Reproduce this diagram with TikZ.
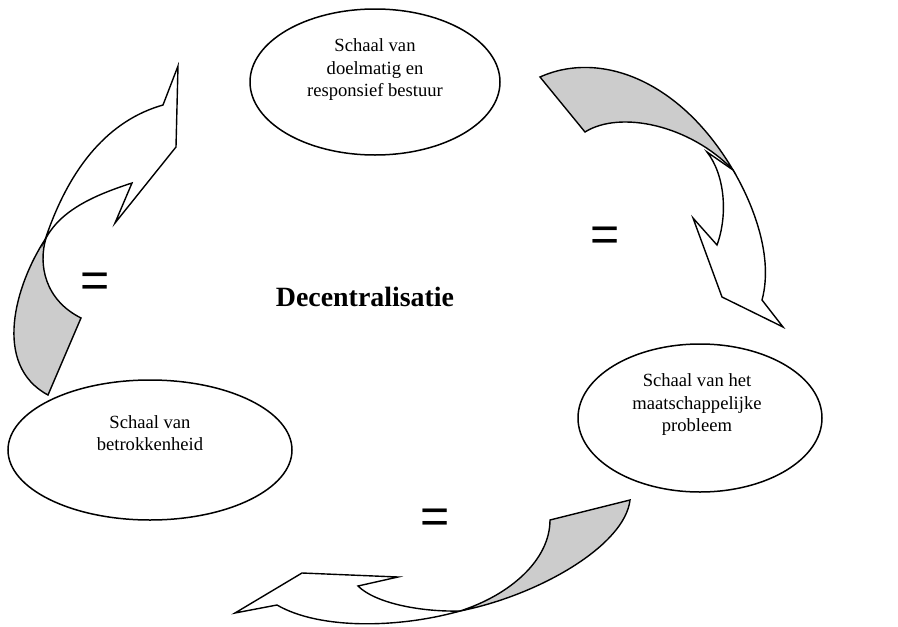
\documentclass[tikz,border=0pt]{standalone}
\usepackage{fontspec}
\setmainfont{Liberation Serif}
\newfontfamily\eqfont{Liberation Sans}
\usetikzlibrary{shapes.geometric}
\begin{document}
\begin{tikzpicture}[x=1pt,y=-1pt,
  outline/.style={draw=black, line width=1.4pt, line join=miter, miter limit=20},
  backface/.style={outline, fill=black!20},
  frontface/.style={outline, fill=white},
  bubble/.style={ellipse, draw=black, line width=1.5pt, fill=white, inner sep=0pt},
  bubbletext/.style={align=center, inner sep=0pt, font=\fontsize{18.6}{22.5}\selectfont},
  titletext/.style={inner sep=0pt, font=\bfseries\fontsize{27.9}{33}\selectfont},
  equals/.style={inner sep=0pt, font=\eqfont\fontsize{50}{50}\selectfont}]
\useasboundingbox (0,0) rectangle (898,627);

% curved arrow, upper right: grey back face of the tail, then the white head
\coordinate (rx) at (733,170);
\draw[backface] (540,77) .. controls (600,50) and (680,80) .. (rx)
  .. controls (690,125) and (620,110) .. (585,132) -- cycle;
\draw[frontface] (rx) .. controls (748,195) and (775,252) .. (762,300)
  -- (783,327) -- (722,297) -- (693,218) -- (717,245)
  .. controls (728,215) and (725,175) .. (707,152) -- cycle;

% curved arrow, left side
\draw[backface] (48,395) -- (81,318) .. controls (45,300) and (38,265) .. (46,238)
  .. controls (15,285) and (-8,365) .. (48,395) -- cycle;
\draw[frontface] (45,240) .. controls (70,165) and (110,120) .. (163,105)
  -- (178,66) -- (176,147) -- (115,223) -- (132,183)
  .. controls (95,195) and (60,210) .. (45,240) -- cycle;

% curved arrow, bottom
\draw[backface] (630,500) .. controls (625,545) and (540,595) .. (460,611)
  .. controls (510,595) and (550,560) .. (550,520) -- cycle;
\draw[frontface] (460,611) .. controls (400,628) and (320,630) .. (277,605)
  -- (235,613) -- (302,573) -- (398,577) -- (358,586)
  .. controls (375,603) and (420,612) .. (460,611) -- cycle;

% the three scales
\node[bubble, minimum width=250pt, minimum height=146pt] (topscale) at (375,82) {};
\node[bubble, minimum width=244pt, minimum height=148pt] (rightscale) at (700,418) {};
\node[bubble, minimum width=284pt, minimum height=140pt] (leftscale) at (150,450) {};

\node[bubbletext] (toplabel) at (375,70) {Schaal van\\doelmatig en\\responsief bestuur};
\node[bubbletext] (rightlabel) at (697,405) {Schaal van het\\maatschappelijke\\probleem};
\node[bubbletext] (leftlabel) at (150,433) {Schaal van\\betrokkenheid};

\node[titletext] (title) at (365,297) {Decentralisatie};

\node[equals] (eqright) at (605,239) {=};
\node[equals] (eqleft) at (95,285) {=};
\node[equals] (eqbottom) at (435,521) {=};
\end{tikzpicture}
\end{document}
